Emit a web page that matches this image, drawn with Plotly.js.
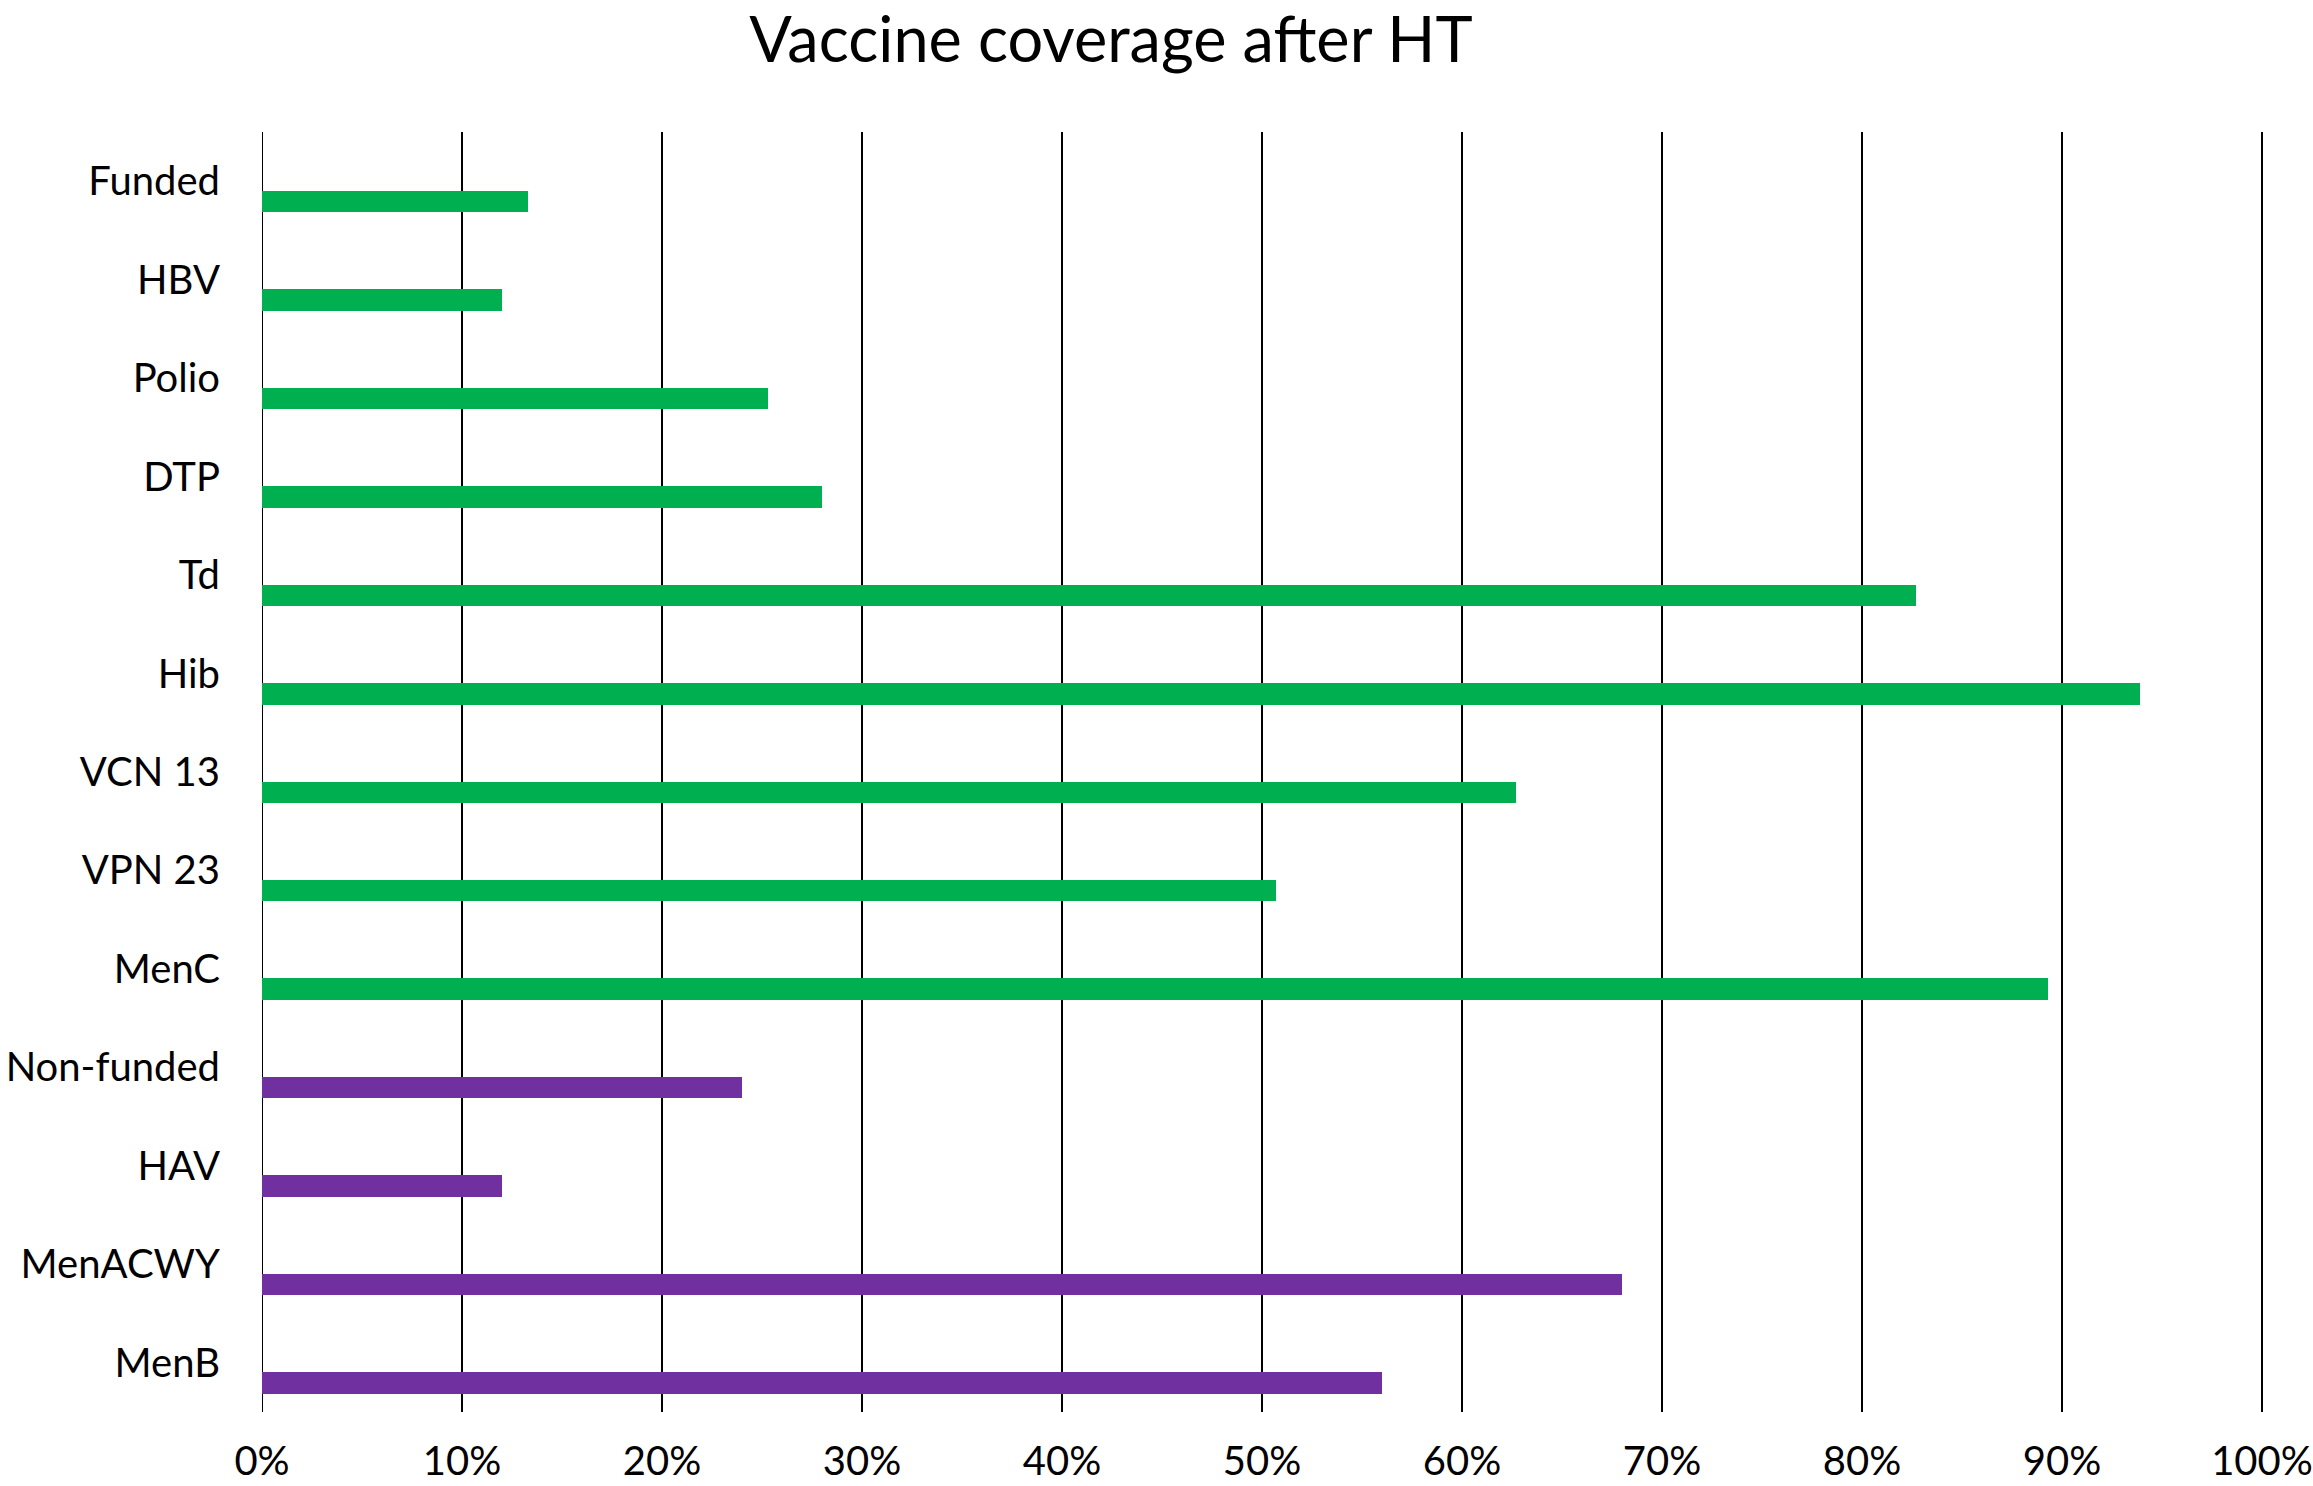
<!DOCTYPE html>
<html>
<head>
<meta charset="utf-8">
<script src="https://cdn.plot.ly/plotly-3.0.1.min.js"></script>
<style>
html, body { margin: 0; padding: 0; background: #ffffff; }
#chart { width: 2313px; height: 1486px; }
</style>
</head>
<body>
<div id="chart"></div>
<script>
// Data (percent coverage)
var fundedCategories = ["Funded", "HBV", "Polio", "DTP", "Td", "Hib", "VCN 13", "VPN 23", "MenC"];
var fundedValues = [13.3, 12.0, 25.3, 28.0, 82.7, 93.9, 62.7, 50.7, 89.3];

var nonFundedCategories = ["Non-funded", "HAV", "MenACWY", "MenB"];
var nonFundedValues = [24.0, 12.0, 68.0, 56.0];

var allCategories = fundedCategories.concat(nonFundedCategories);

var xTickValues = [0, 10, 20, 30, 40, 50, 60, 70, 80, 90, 100];
var xTickLabels = ["0%", "10%", "20%", "30%", "40%", "50%", "60%", "70%", "80%", "90%", "100%"];

var FONT = "Lato, 'Open Sans', sans-serif";

var traces = [
  {
    type: "bar",
    orientation: "h",
    y: fundedCategories,
    x: fundedValues,
    width: 0.218,
    offset: 0.097,
    marker: { color: "#00B050", line: { width: 0 } },
    hoverinfo: "x+y",
    showlegend: false
  },
  {
    type: "bar",
    orientation: "h",
    y: nonFundedCategories,
    x: nonFundedValues,
    width: 0.218,
    offset: 0.097,
    marker: { color: "#7030A0", line: { width: 0 } },
    hoverinfo: "x+y",
    showlegend: false
  }
];

var layout = {
  width: 2313,
  height: 1486,
  paper_bgcolor: "#ffffff",
  plot_bgcolor: "#ffffff",
  margin: { l: 262, r: 47, t: 132, b: 74, pad: 0 },
  font: { family: FONT, color: "#000000", size: 40 },
  title: {
    text: "Vaccine coverage after HT",
    font: { family: FONT, size: 63, color: "#000000" },
    x: 1111 / 2313,
    xref: "container",
    xanchor: "center",
    y: 1 - 40 / 1486,
    yref: "container",
    yanchor: "middle"
  },
  xaxis: {
    range: [0, 100.2],
    tickmode: "array",
    tickvals: xTickValues,
    ticktext: xTickLabels,
    showgrid: true,
    gridcolor: "#000000",
    gridwidth: 2,
    zeroline: true,
    zerolinecolor: "#000000",
    zerolinewidth: 1,
    showline: false,
    ticks: "outside",
    ticklen: 14,
    tickcolor: "rgba(0,0,0,0)",
    tickfont: { family: FONT, size: 40, color: "#000000" },
    fixedrange: true,
    automargin: false
  },
  yaxis: {
    type: "category",
    categoryorder: "array",
    categoryarray: allCategories,
    range: [12.5, -0.5],
    showgrid: false,
    zeroline: false,
    showline: false,
    ticks: "outside",
    ticklen: 33,
    tickcolor: "rgba(0,0,0,0)",
    tickfont: { family: FONT, size: 40, color: "#000000" },
    fixedrange: true,
    automargin: false
  },
  bargap: 0,
  showlegend: false
};

Plotly.newPlot("chart", traces, layout, { displayModeBar: false, staticPlot: true });
</script>
</body>
</html>
